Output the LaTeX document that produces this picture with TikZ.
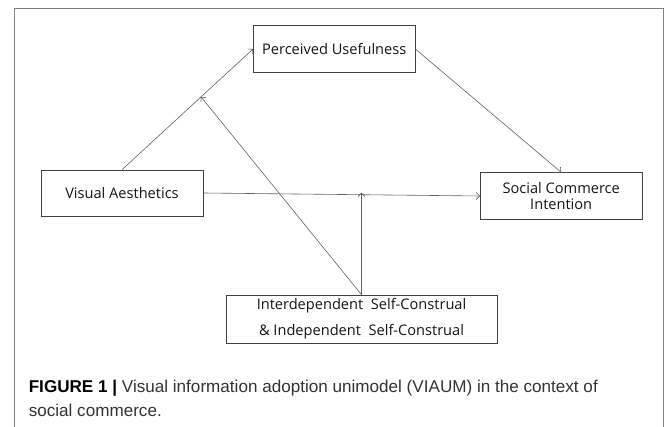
\documentclass[tikz,border=0pt]{standalone}
\usepackage{fontspec}
\setmainfont{Liberation Sans}
\newfontfamily\boxfont{Open Sans}
\usetikzlibrary{arrows.meta,calc}
\begin{document}
\begin{tikzpicture}[x=1pt,y=-1pt,
  box/.style={draw=black!75, line width=0.7pt, inner sep=0pt, align=center,
    font=\boxfont\fontsize{14.6}{16.3}\selectfont, text=black!92},
  conn/.style={draw=black!62, line width=0.6pt, -{Straight Barb[length=3.5pt,width=7pt]}},
  frame/.style={draw=black!50, line width=0.9pt},
  captext/.style={anchor=base west, inner sep=0pt, text=black!80,
    font=\fontsize{17.1}{23}\selectfont}]
\useasboundingbox (0,0) rectangle (669,427);
\draw[frame] (14,427) -- (14,8.3) -- (663,8.3) -- (663,427);

\node[box, minimum width=161.6pt, minimum height=46.6pt] (PU) at (334.2,49) {Perceived Usefulness};
\node[box, minimum width=162pt, minimum height=46pt] (VA) at (122,193) {Visual Aesthetics};
\node[box, minimum width=161.5pt, minimum height=46.6pt] (SCI) at (561.2,196) {Social Commerce\\Intention};
\node[box, minimum width=271pt, minimum height=48pt, font=\boxfont\fontsize{14.6}{26}\selectfont] (ISC) at (361.5,319) {Interdependent\ \ Self-Construal\\\&\ Independent\ \ Self-Construal};

\coordinate (m1) at ($(VA.north)!0.603!(PU.west)$);
\coordinate (m2) at ($(VA.east)!0.571!(SCI.west)$);

\draw[conn] (VA.north) -- (PU.west);
\draw[conn] (PU.east) -- (SCI.north);
\draw[conn] (VA.east) -- (SCI.west);
\draw[conn] (ISC.north) -- (m1);
\draw[conn] (ISC.north) -- ([yshift=2pt]ISC.north |- m2);

\node[captext] (cap1) at (28.6,392.7) {\textcolor{black}{\textbf{FIGURE 1 |}} Visual information adoption unimodel (VIAUM) in the context of};
\node[captext] (cap2) at (28.6,416.5) {social commerce.};
\end{tikzpicture}
\end{document}
